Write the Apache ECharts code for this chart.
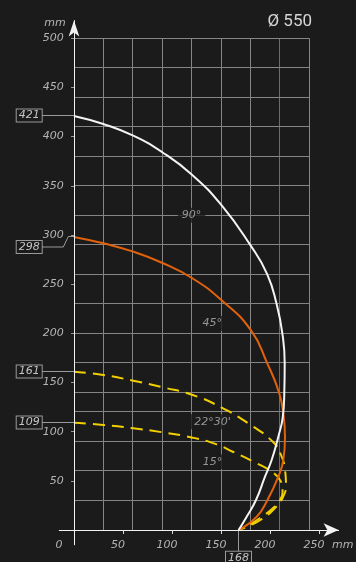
<!DOCTYPE html>
<html>
<head>
<meta charset="utf-8">
<script src="https://cdn.jsdelivr.net/npm/echarts@6/dist/echarts.min.js"></script>
<style>
  html, body { margin: 0; padding: 0; background: #1b1b1b; }
  #chart { width: 356px; height: 562px; }
</style>
</head>
<body>
<div id="chart"></div>
<script>
// Axis ticks (mm)
const xTickValues = [0, 50, 100, 150, 200, 250];
const yTickValues = [50, 100, 150, 200, 250, 300, 350, 400, 450, 500];

// Drawing grid (mm): 30 mm cells, the upper block counted down from 500
const gridXLines = [30, 60, 90, 120, 150, 180, 210, 240];
const gridYLines = [30, 60, 90, 120, 140, 170, 200, 230, 260, 290, 320, 350, 380, 410, 440, 470, 500];
const gridXMax = 240;
const gridYMax = 500;

// Envelope curves per tilt angle, [reach mm, height mm]
const curve90 = [
  [0, 421], [29.9, 412.8], [60.5, 400.9], [90.1, 384.1], [120.7, 361], [150.3, 330.5],
  [180.3, 289.1], [197.2, 260], [206.8, 229.5], [212.6, 200],
  [215, 169.5], [214.6, 140], [213, 114.6], [208.5, 94.9], [201.7, 71.2], [194.9, 54.2],
  [185.7, 30.5], [176.2, 13.5], [168, 0]
];
const curve45 = [
  [0, 298], [29.9, 291.5], [60.5, 283], [90.3, 271.5], [120.7, 256], [150.3, 233.9],
  [180.3, 203.4], [197.2, 169.5], [209.2, 139.8], [213.8, 116.9], [215.3, 94.6], [213.6, 71.2],
  [208.5, 54.2], [197.4, 30.5], [186.4, 13.5], [168, 0]
];
const curve22 = [
  [0, 161], [29.9, 157.6], [60.5, 151.8], [90.5, 145.1], [121.1, 137.3], [150.7, 124.4],
  [180.3, 106.8], [203.4, 89.2], [211.2, 76.3], [215.3, 61], [216.3, 45.8], [213.3, 33.6],
  [205.1, 22.4], [191.8, 11.2], [179.6, 4.6], [168, 0]
];
const curve15 = [
  [0, 109], [29.9, 106.8], [60.5, 103.4], [90.5, 99.3], [121.1, 93.9], [145.6, 87.1],
  [162.6, 79.3], [183, 69.5], [201.7, 59.3], [210.2, 50.8], [212.8, 40.7], [210.2, 30.5],
  [202, 21.4], [189.8, 12.2], [178.6, 5.1], [168, 0]
];

// Angle captions: [x mm, y mm, text]
const angleCaptions = [
  [120, 320, '90°'],
  [141, 210, '45°'],
  [141.3, 110, '22°30\''],
  [141.3, 69.4, '15°']
];

// Dimension callouts
const heightCallouts = [421, 298, 161, 109];
const reachCallouts = [168];

const BG = '#1b1b1b';
const GRID = '#858585';
const LABEL = '#b4b4b4';
const LABEL_FONT = 'DejaVu Sans';
const ITALIC_FONT = 'italic 11px "' + LABEL_FONT + '"';

const chart = echarts.init(document.getElementById('chart'), null, { renderer: 'canvas' });

function gridRender(params, api) {
  const dir = api.value(0);
  const v = api.value(1);
  let a, b;
  if (dir === 0) { a = api.coord([v, 0]); b = api.coord([v, gridYMax]); }
  else { a = api.coord([0, v]); b = api.coord([gridXMax, v]); }
  const snap = (n) => Math.round(n - 0.5) + 0.5;
  const dark = dir === 0 && v === 210;
  return {
    type: 'line',
    shape: dir === 0
      ? { x1: snap(a[0]), y1: a[1], x2: snap(b[0]), y2: b[1] }
      : { x1: a[0], y1: snap(a[1]), x2: b[0], y2: snap(b[1]) },
    style: { stroke: dark ? '#6c6c6c' : GRID, lineWidth: 1 }
  };
}

// Reach labels under the horizontal axis; the origin "0" sits further left
function xLabelRender(params, api) {
  const v = api.value(0);
  const p = api.coord([v, 0]);
  return {
    type: 'text',
    style: {
      text: String(v), x: p[0] - (v === 0 ? 15 : 5), y: p[1] + 15,
      align: 'center', verticalAlign: 'middle', fill: LABEL, font: ITALIC_FONT
    }
  };
}

function boxText(text, x, y, align, vAlign) {
  return {
    type: 'text',
    style: {
      text: text, x: x, y: y, align: align, verticalAlign: vAlign,
      fill: '#c4c4c4', font: ITALIC_FONT,
      backgroundColor: BG, borderColor: '#9a9a9a', borderWidth: 1,
      padding: [1, 2, 0, 2]
    },
    z2: 10
  };
}

function calloutRender(params, api) {
  const dir = api.value(0);
  const v = api.value(1);
  const lineStyle = { stroke: '#9a9a9a', lineWidth: 1, fill: null };
  if (dir === 1) {
    const p = api.coord([0, v]);
    const y0 = Math.round(p[1] - 0.5) + 0.5;
    const boxRight = p[0] - 32.3;
    let pts, yBox;
    if (v === 298) {
      yBox = y0 + 10.5;
      pts = [[p[0], y0], [p[0] - 5.7, y0], [p[0] - 10.7, yBox], [boxRight, yBox]];
    } else {
      yBox = y0;
      pts = [[p[0], y0], [boxRight, y0]];
    }
    return {
      type: 'group',
      children: [
        { type: 'polyline', shape: { points: pts }, style: lineStyle },
        boxText(String(v), boxRight, yBox, 'right', 'middle')
      ]
    };
  } else {
    const p = api.coord([v, 0]);
    const x0 = Math.round(p[0] - 0.5) + 0.5;
    return {
      type: 'group',
      children: [
        { type: 'line', shape: { x1: x0, y1: p[1], x2: x0, y2: p[1] + 21.7 }, style: lineStyle },
        boxText(String(v), x0, p[1] + 21.7, 'center', 'top')
      ]
    };
  }
}

function curveSeries(name, data, color, width, dashed) {
  return {
    name: name, type: 'line', data: data, symbol: 'none', smooth: 0.5,
    clip: false, z: 3,
    lineStyle: { color: color, width: width, type: dashed ? [12, 7] : 'solid' }
  };
}

const option = {
  backgroundColor: BG,
  animation: false,
  title: {
    text: 'Ø 550', right: 39, top: 8,
    textStyle: { color: '#d6d6d6', fontSize: 17, fontWeight: 'normal', fontFamily: 'Roboto' }
  },
  graphic: [{
    type: 'text', left: 332, top: 540, silent: true,
    style: { text: 'mm', fill: LABEL, font: ITALIC_FONT }
  }],
  grid: { left: 59.3, right: 356 - 338.6, top: 20.55, bottom: 562 - 544.75, containLabel: false },
  xAxis: {
    type: 'value', min: -15, max: 270, z: 10,
    axisLine: { show: true, onZero: true, symbol: ['none', 'arrow'], symbolSize: [10, 15],
      lineStyle: { color: '#f2f2f2', width: 1 } },
    axisTick: { show: true, customValues: xTickValues.filter(v => v > 0), length: 4,
      lineStyle: { color: '#e0e0e0' } },
    axisLabel: { show: false },
    splitLine: { show: false }
  },
  yAxis: {
    type: 'value', min: -15, max: 518, z: 10,
    name: 'mm', nameLocation: 'end', nameGap: -8,
    nameTextStyle: { color: LABEL, fontStyle: 'italic', fontFamily: LABEL_FONT, fontSize: 11, padding: [0, 38, 0, 0] },
    axisLine: { show: true, onZero: true, symbol: ['none', 'arrow'], symbolSize: [8, 16],
      lineStyle: { color: '#f2f2f2', width: 1 } },
    axisTick: { show: true, customValues: yTickValues, length: 3, lineStyle: { color: '#9a9a9a' } },
    axisLabel: {
      customValues: yTickValues, margin: -4.5,
      color: LABEL, fontStyle: 'italic', fontFamily: LABEL_FONT, fontSize: 11
    },
    splitLine: { show: false }
  },
  series: [
    {
      name: 'grid', type: 'custom', z: 1, silent: true, clip: false,
      data: gridXLines.map(v => [0, v]).concat(gridYLines.map(v => [1, v])),
      encode: { x: -1, y: -1 },
      renderItem: gridRender
    },
    curveSeries('15°', curve15, '#f2cf00', 2, true),
    curveSeries('22°30\'', curve22, '#f2cf00', 2, true),
    curveSeries('45°', curve45, '#e2620c', 2, false),
    curveSeries('90°', curve90, '#f4f4f4', 2, false),
    {
      name: 'captions', type: 'scatter', z: 5, symbolSize: 0, silent: true,
      data: angleCaptions,
      label: {
        show: true, position: 'inside', formatter: p => p.data[2],
        color: LABEL, fontStyle: 'italic', fontFamily: LABEL_FONT, fontSize: 11,
        backgroundColor: BG, padding: [2, 4]
      }
    },
    {
      name: 'xLabels', type: 'custom', z: 6, silent: true, clip: false,
      data: xTickValues.map(v => [v]),
      encode: { x: 0, y: -1 },
      renderItem: xLabelRender
    },
    {
      name: 'callouts', type: 'custom', z: 6, silent: true, clip: false,
      data: heightCallouts.map(v => [1, v]).concat(reachCallouts.map(v => [0, v])),
      encode: { x: -1, y: -1 },
      renderItem: calloutRender
    }
  ]
};

chart.setOption(option);
</script>
</body>
</html>
